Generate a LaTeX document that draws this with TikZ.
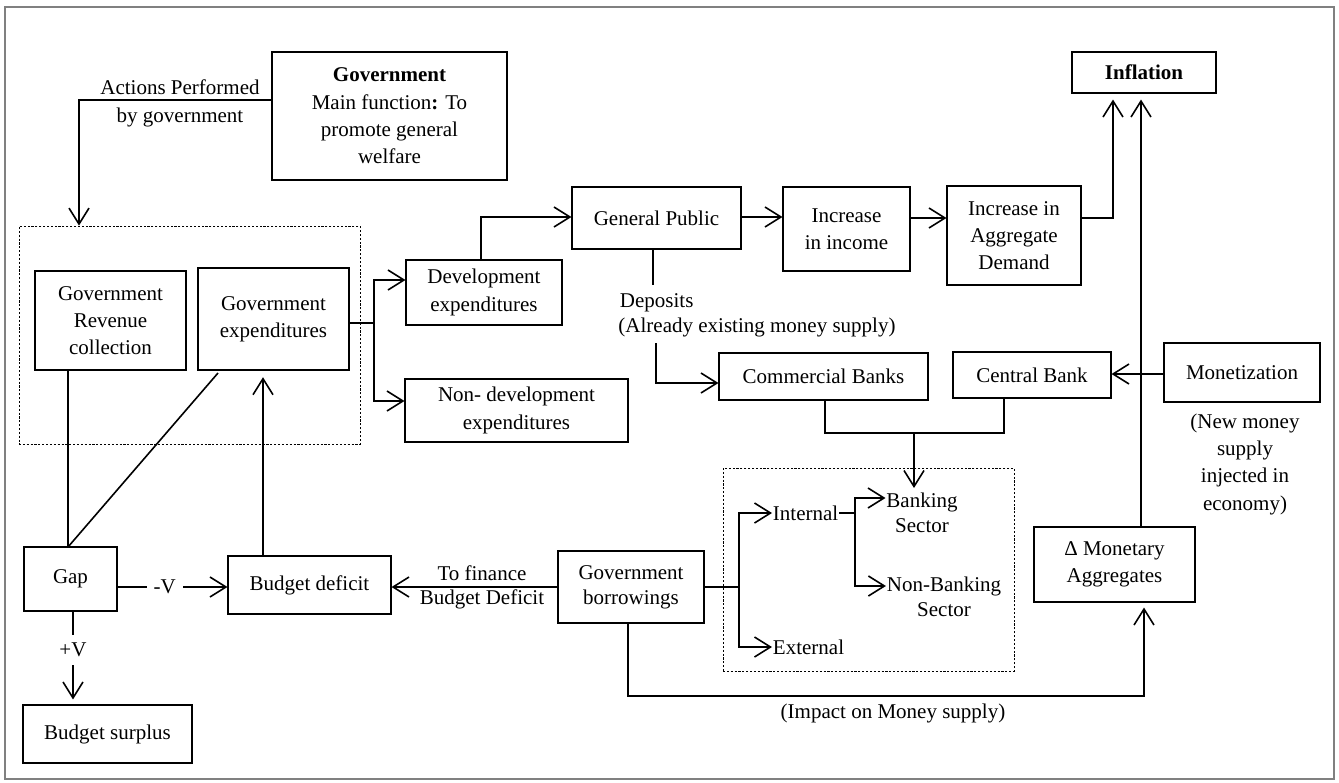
\documentclass[tikz,border=0pt]{standalone}
\usepackage{fontspec}
\setmainfont{Liberation Serif}
\usetikzlibrary{arrows.meta}
\newcommand\pbox[7][box]{\node[#1, minimum width={(#5-#3)*0.75pt}, minimum height={(#6-#4)*0.75pt}] (#2) at ({(#3+#5)/2},{(#4+#6)/2}) {#7};}
\begin{document}
\begin{tikzpicture}[x=0.75pt,y=-0.75pt,
  box/.style={draw, line width=0.8pt, inner sep=0pt, align=center},
  dotbox/.style={draw, line width=0.6pt, dash pattern=on 1.6pt off 1.3pt, inner sep=0pt},
  conn/.style={line width=1.2pt},
  arr/.style={conn, -{Straight Barb[length=12pt,width=15pt]}},
  txt/.style={inner sep=0.5pt, align=center},
  tight/.style={font=\fontsize{15.75pt}{18.5pt}\selectfont},
  vlbl/.style={fill=white, font=\fontsize{15.75pt}{17pt}\selectfont},
  font=\fontsize{15.75pt}{20.5pt}\selectfont]
\useasboundingbox (0,0) rectangle (1339,782);
\draw[gray, line width=1.5pt] (5,7) rectangle (1334,779);

% group boxes
\pbox[dotbox]{grp}{19}{226}{360}{444}{}
\pbox[dotbox]{grp2}{723}{468}{1014}{671}{}

% boxes
\pbox{gov}{272}{52}{507}{180}{\textbf{Government}\\Main function\textbf{:} To\\promote general\\welfare}
\pbox{infl}{1072}{52}{1216}{93}{\textbf{Inflation}}
\pbox{govrev}{35}{271}{186}{370}{Government\\Revenue\\collection}
\pbox{govexp}{198}{268}{349}{370}{Government\\expenditures}
\pbox{dev}{406}{260}{562}{325}{Development\\expenditures}
\pbox{nondev}{405}{379}{628}{442}{Non- development\\expenditures}
\pbox{genpub}{572}{187}{741}{249}{General Public}
\pbox{incinc}{783}{187}{910}{271}{Increase\\in income}
\pbox{ad}{947}{186}{1081}{285}{Increase in\\Aggregate\\Demand}
\pbox{cb}{719}{353}{928}{400}{Commercial Banks}
\pbox{cenb}{953}{352}{1111}{398}{Central Bank}
\pbox{monet}{1164}{343}{1320}{402}{Monetization}
\pbox{dma}{1034}{527}{1195}{602}{Δ Monetary\\Aggregates}
\pbox{gap}{24}{547}{117}{611}{Gap}
\pbox{bd}{228}{556}{391}{614}{Budget deficit}
\pbox[box,tight]{gb}{558}{551}{704}{623}{Government\\borrowings}
\pbox{surplus}{23}{705}{192}{763}{Budget surplus}

% free texts
\node[txt] (actlbl) at (180,103.5) {Actions Performed\\by government};
\node[txt,tight] (tofin) at (482,587.5) {To finance\\Budget Deficit};
\node[txt,anchor=west] (dep) at (619,303) {Deposits};
\node[txt] (already) at (757,327) {(Already existing money supply)};
\node[txt] (newmoney) at (1245,464) {(New money\\supply\\injected in\\economy)};
\node[txt] (impact) at (893,713) {(Impact on Money supply)};
\node[txt,anchor=west] (internal) at (772,513) {Internal};
\node[txt,anchor=west] (external) at (772,647) {External};
\node[txt,tight] (bank) at (922,513) {Banking\\Sector};
\node[txt,tight] (nonbank) at (944,597) {Non-Banking\\Sector};

% coordinates
\coordinate (gtop) at (68,547);
\coordinate (dstart) at (218,373);
\coordinate (b1) at (374,323);
\coordinate (dep1) at (653,285);
\coordinate (dep2) at (656,343);
\coordinate (m) at (914,433);
\coordinate (bankin) at (914,488);
\coordinate (b2) at (739,587);
\coordinate (b3) at (855,513);
\coordinate (imp) at (1144,696);

% connectors
\draw[arr] (gov.west |- 0,100) -| (grp.north -| 79,0);
\draw[conn] (govrev.south -| gtop) -- (gtop);
\draw[conn] (dstart) -- (gtop);
\draw[arr, shorten >=5pt] (bd.north -| 263,0) -- (govexp.south -| 263,0);
\draw[conn] (govexp.east |- b1) -- (b1);
\draw[arr] (b1) |- (dev.west |- 0,280);
\draw[arr] (b1) |- (nondev.west |- 0,401);
\draw[arr] (dev.north -| 481,0) |- (genpub.west |- 0,217);
\draw[arr] (genpub.east |- 0,217) -- (incinc.west |- 0,217);
\draw[arr] (incinc.east |- 0,218) -- (ad.west |- 0,218);
\draw[arr, shorten >=4.5pt] (ad.east |- 0,218) -| (infl.south -| 1113,0);
\draw[arr, shorten >=4.5pt] (dma.north -| 1141,0) -- (infl.south -| 1141,0);
\draw[arr] (monet.west |- 0,374) -- (cenb.east |- 0,374);
\draw[conn] (genpub.south -| dep1) -- (dep1);
\draw[arr] (dep2) |- (cb.west |- 0,383);
\draw[conn] (cb.south -| 825,0) |- (m) -| (cenb.south -| 1004,0);
\draw[arr] (m) -- (bankin);
\draw[arr] (gb.west |- 0,587) -- (bd.east |- 0,587);
\draw[conn] (gb.east |- b2) -- (b2);
\draw[arr] (b2) |- (internal.west);
\draw[arr] (b2) |- (external.west);
\draw[conn] (internal.east) -- (b3);
\draw[arr] (b3) |- (bank.west |- 0,498);
\draw[arr] (b3) |- (nonbank.west |- 0,586);
\draw[arr, shorten >=3.75pt] (gb.south -| 628,0) |- (imp) -- (dma.south -| imp);
\draw[arr] (gap.east |- 0,587) -- node[pos=0.43, vlbl, inner xsep=5pt, inner ysep=1pt] (mv) {-V} (bd.west |- 0,587);
\draw[arr, shorten >=3.75pt] (gap.south -| 73,0) -- node[pos=0.41, vlbl, inner xsep=1pt, inner ysep=6pt] (pv) {+V} (surplus.north -| 73,0);
\end{tikzpicture}
\end{document}
